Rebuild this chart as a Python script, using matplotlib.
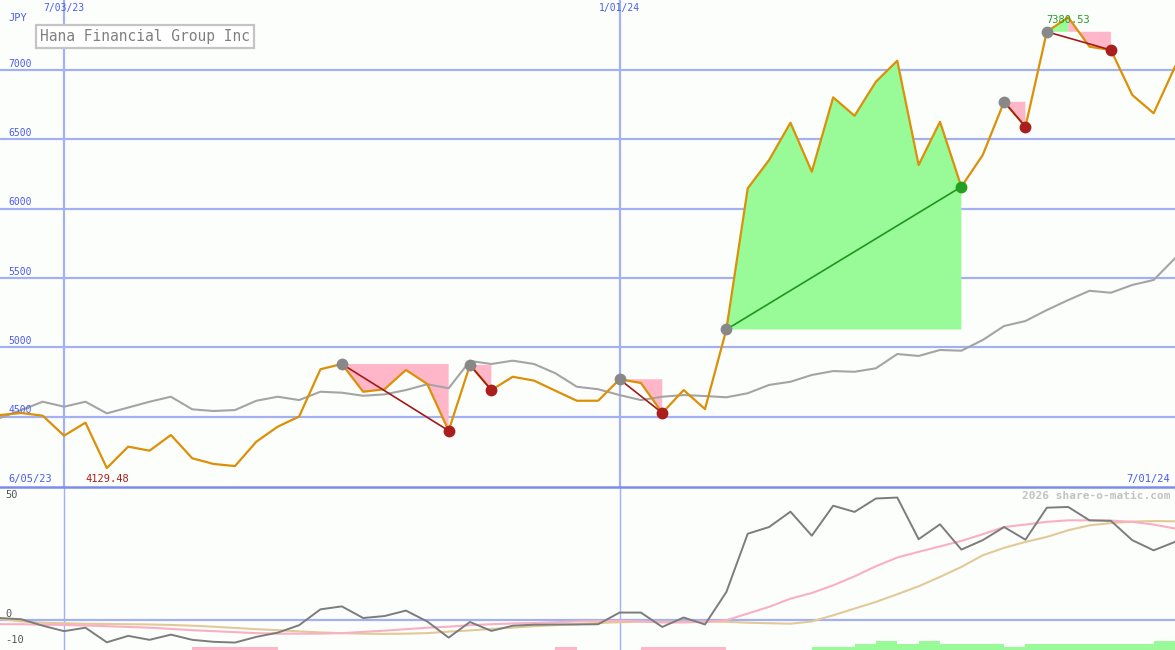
import matplotlib
matplotlib.use("Agg")
import matplotlib.pyplot as plt
import numpy as np

# weekly data, week 0 = first bar on the left
weeks = np.arange(56)
close = [4512, 4527, 4507, 4363, 4457, 4129.48, 4284, 4255, 4368, 4200,
         4159, 4144, 4320, 4428, 4501, 4842, 4880, 4680, 4698, 4837,
         4736, 4399, 4873, 4692, 4788, 4760, 4687, 4615, 4615, 4770,
         4743, 4527, 4692, 4555, 5129, 6147, 6351, 6620, 6267, 6803,
         6670, 6916, 7067, 6315, 6627, 6158, 6387, 6771, 6591, 7276,
         7380.53, 7168, 7144, 6820, 6688, 7024]
avg = [4491, 4548, 4608, 4572, 4608, 4524, 4566, 4608, 4644, 4553,
       4541, 4548, 4615, 4644, 4620, 4680, 4673, 4651, 4661, 4692,
       4734, 4705, 4902, 4880, 4904, 4880, 4813, 4716, 4698, 4656,
       4620, 4644, 4656, 4649, 4640, 4669, 4729, 4752, 4801, 4829,
       4824, 4849, 4952, 4938, 4981, 4976, 5053, 5154, 5190, 5269,
       5341, 5408, 5394, 5450, 5486, 5642]
mom = [0.9, 0.4, -2.2, -4.4, -3.0, -8.9, -6.3, -7.9, -5.8, -7.9,
       -8.7, -9.0, -6.7, -5.0, -2.0, 4.4, 5.6, 0.9, 1.7, 3.9,
       -0.5, -7.0, -0.7, -4.3, -2.2, -1.8, -1.7, -1.7, -1.6, 3.1,
       3.1, -2.7, 1.1, -1.7, 11.4, 34.9, 37.6, 43.8, 34.1, 46.2,
       43.7, 49.1, 49.5, 32.7, 38.7, 28.5, 32.3, 37.6, 32.5, 45.4,
       45.7, 40.3, 40.1, 32.3, 28.2, 31.6]
mom_fast = [-1.6, -1.6, -1.8, -1.9, -2.1, -2.4, -2.7, -3.0, -3.5, -4.0,
            -4.4, -4.8, -5.2, -5.4, -5.4, -5.4, -5.2, -4.7, -4.2, -3.6,
            -3.0, -2.6, -2.0, -1.6, -1.3, -1.1, -0.8, -0.5, -0.3, -0.2,
            -0.5, -0.9, -0.9, -0.6, 0.0, 2.7, 5.4, 8.7, 11.0, 14.1,
            17.7, 21.8, 25.3, 27.6, 29.8, 32.0, 34.7, 37.6, 38.6, 39.7,
            40.3, 40.3, 40.2, 39.7, 38.6, 37.0]
mom_slow = [0.5, -0.5, -1.0, -1.2, -1.4, -1.5, -1.6, -1.7, -1.9, -2.2,
            -2.6, -3.1, -3.6, -4.0, -4.5, -4.9, -5.2, -5.4, -5.5, -5.4,
            -5.2, -4.6, -4.1, -3.5, -3.0, -2.4, -2.0, -1.6, -1.1, -0.8,
            -0.6, -0.6, -0.6, -0.6, -0.6, -1.0, -1.2, -1.4, -0.5, 2.0,
            4.7, 7.4, 10.5, 13.7, 17.5, 21.5, 26.2, 29.2, 31.6, 33.6,
            36.3, 38.3, 39.2, 39.8, 40.0, 39.9]
# signal strength bars (negative = sell, positive = buy)
signal_bars = [0, 0, 0, 0, 0, 0, 0, 0, 0, -1, -1, -1, -1, 0, 0, 0, 0, 0, 0, 0,
               0, 0, 0, 0, 0, 0, -1, 0, 0, 0, -1, -1, -1, -1, 0, 0, 0, 0, 1, 1,
               2, 3, 2, 3, 2, 2, 2, 1, 2, 2, 2, 2, 2, 2, 3]
entry_idx = [16, 22, 29, 34, 47, 49]
exit_idx = [21, 23, 31, 45, 48, 52]
price_ticks = [4500, 5000, 5500, 6000, 6500, 7000]
date_weeks = [3, 29]
date_labels = ["7/03/23", "1/01/24"]
start_label = "6/05/23"
end_label = "7/01/24"
title = "Hana Financial Group Inc"

GRID = "#a3b1f2"
BLUE_TXT = "#4a5cf0"
GREEN_FILL = "#98fb98"
PINK_FILL = "#ffb6c8"
RED = "#aa1e1e"
GREEN = "#22a022"
BG = "#fcfefc"
MONO = "DejaVu Sans Mono"

fig = plt.figure(figsize=(11.75, 6.5), dpi=100, facecolor=BG)
ax = fig.add_axes([0, 163 / 650, 1, 487 / 650], facecolor=BG)
ax2 = fig.add_axes([0, 0, 1, 163 / 650], facecolor=BG)

close = np.array(close)

# --- top panel
for t in price_ticks:
    ax.axhline(t, color=GRID, lw=1.6, zorder=0)
    ax.annotate(str(t), (0.007, t), xycoords=ax.get_yaxis_transform(),
                xytext=(0, 1), textcoords="offset points", va="bottom",
                fontsize=7, family=MONO, color=BLUE_TXT)
for w, lab in zip(date_weeks, date_labels):
    ax.axvline(w, color=GRID, lw=1.6, zorder=0)
    ax.text(w, 1 - 8 / 487, lab, transform=ax.get_xaxis_transform(),
            ha="center", va="center", fontsize=7, family=MONO, color=BLUE_TXT)

# trade shading: one polygon per run of same-coloured segments
for a, b in zip(entry_idx, exit_idx):
    ep = close[a]
    cols = [GREEN_FILL if close[k + 1] >= ep else PINK_FILL for k in range(a, b)]
    k0 = a
    for k in range(a, b):
        if k == b - 1 or cols[k - a + 1] != cols[k - a]:
            xs = list(range(k0, k + 2))
            ax.fill([k0] + xs + [k + 1], [ep] + list(close[k0:k + 2]) + [ep],
                    color=cols[k - a], lw=0, zorder=1)
            k0 = k + 1

ax.plot(weeks, avg, color="#a4a4a4", lw=1.5, zorder=2)
ax.plot(weeks, close, color="#db9008", lw=1.6, zorder=3)

for a, b in zip(entry_idx, exit_idx):
    win = close[b] > close[a]
    c = GREEN if win else RED
    ax.plot([a, b], [close[a], close[b]], color=("#1e961e" if win else "#a01a1a"),
            lw=1.2, zorder=4)
    ax.plot(a, close[a], "o", ms=8.5, color="#888888", mec="none", zorder=5)
    ax.plot(b, close[b], "o", ms=8.5, color=c, mec="none", zorder=5)

imax = int(np.argmax(close))
imin = int(np.argmin(close))
ax.annotate(f"{close[imax]:.2f}", (weeks[imax], close[imax]), xytext=(0, -2),
            textcoords="offset points", ha="center", va="center",
            fontsize=7.5, family=MONO, color=GREEN, zorder=6)
ax.text(weeks[imin], 8 / 487, f"{close[imin]:.2f}", transform=ax.get_xaxis_transform(),
        ha="center", va="center", fontsize=7.5, family=MONO, color=RED)
ax.text(8 / 1175, 8 / 487, start_label, transform=ax.transAxes, ha="left",
        va="center", fontsize=7.5, family=MONO, color=BLUE_TXT)
ax.text(1 - 5 / 1175, 8 / 487, end_label, transform=ax.transAxes, ha="right",
        va="center", fontsize=7.5, family=MONO, color=BLUE_TXT)
ax.text(8 / 1175, 1 - 18 / 487, "JPY", transform=ax.transAxes, ha="left",
        va="center", fontsize=7.5, family=MONO, color=BLUE_TXT)
ax.text(145 / 1175, 1 - 36.5 / 487, title, transform=ax.transAxes, ha="center",
        va="center", fontsize=10.5, family=MONO, color="#808080", zorder=7,
        bbox=dict(boxstyle="square,pad=0.3", fc="white", ec="#c4c4c4", lw=1.6))

ax.set_xlim(0, 55)
ax.set_ylim(3993, 7505)
ax.set_xticks([])
ax.set_yticks([])
for s in ax.spines.values():
    s.set_visible(False)

# --- bottom panel
ax2.axhline(0, color=GRID, lw=1.6, zorder=0)
for w in date_weeks:
    ax2.axvline(w, color=GRID, lw=1, zorder=0)
sb = np.array(signal_bars)
bar_x = np.arange(len(sb))
bar_col = [GREEN_FILL if v > 0 else PINK_FILL for v in sb]
ax2.bar(bar_x, np.abs(sb) * 1.15, width=1, align="edge", bottom=-12,
        color=bar_col, lw=0, zorder=1, antialiased=False)
ax2.plot(weeks, mom_slow, color="#e2c998", lw=1.5, zorder=2)
ax2.plot(weeks, mom_fast, color="#f8b0c2", lw=1.5, zorder=2)
ax2.plot(weeks, mom, color="#7c7c7c", lw=1.4, zorder=3)

for v, yp in [("50", 495), ("0", 614), ("-10", 640)]:
    ax2.text(5 / 1175, 1 - (yp - 487) / 163, v, transform=ax2.transAxes,
             ha="left", va="center", fontsize=7.5, family=MONO, color="#555555")
ax2.text(1 - 4 / 1175, 1 - 9 / 163, "2026 share-o-matic.com", transform=ax2.transAxes,
         ha="right", va="center", fontsize=8, family=MONO, color="#c2c2c2",
         fontweight="bold")

ax2.set_xlim(0, 55)
ax2.set_ylim(-12, 53.75)
ax2.set_xticks([])
ax2.set_yticks([])
for k, s in ax2.spines.items():
    s.set_visible(k == "top")
ax2.spines["top"].set_color("#7d8ceb")
ax2.spines["top"].set_linewidth(1.8)

fig.savefig("out.png", dpi=100, facecolor=BG)
